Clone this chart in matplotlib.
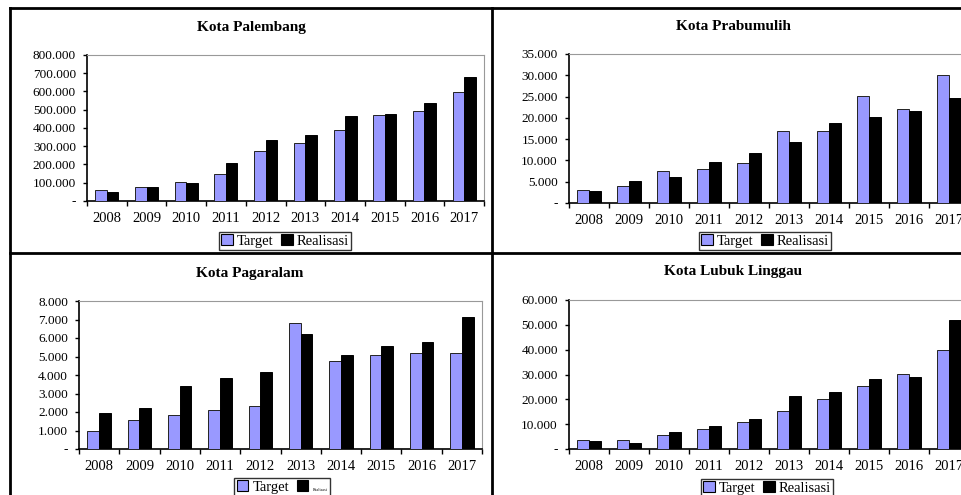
import numpy as np
import matplotlib
matplotlib.use("Agg")
import matplotlib.pyplot as plt
from matplotlib.lines import Line2D
from matplotlib.patches import Patch
from matplotlib.ticker import FuncFormatter, FixedLocator

plt.rcParams["font.family"] = ["Liberation Serif", "DejaVu Serif"]

years = ["2008", "2009", "2010", "2011", "2012", "2013", "2014", "2015", "2016", "2017"]

# values
palembang_target = [58000, 78000, 106000, 150000, 276000, 320000, 389000, 473000, 495000, 599000]
palembang_real = [51000, 78000, 100000, 206000, 332000, 362000, 466000, 479000, 537000, 678000]

prabumulih_target = [3050, 4000, 7600, 8100, 9400, 16800, 16800, 25050, 22100, 30100]
prabumulih_real = [2750, 5200, 6100, 9700, 11800, 14250, 18700, 20300, 21700, 24700]

pagaralam_target = [1000, 1550, 1830, 2090, 2300, 6810, 4730, 5070, 5210, 5210]
pagaralam_real = [1960, 2230, 3420, 3830, 4170, 6190, 5070, 5560, 5790, 7140]

lubuk_target = [3760, 3760, 5800, 7900, 11000, 15200, 20300, 25400, 30200, 40000]
lubuk_real = [3200, 2300, 6800, 9400, 12100, 21300, 23000, 28100, 29100, 51900]

TARGET_COLOR = "#9999ff"
W, H = 961, 495

fig = plt.figure(figsize=(W / 100, H / 100), dpi=100)


def px_axes(left, right, top, bottom):
    return fig.add_axes([left / W, 1 - bottom / H, (right - left) / W, (bottom - top) / H])


def thousands(v, pos):
    if v == 0:
        return "-"
    return f"{int(round(v)):,}".replace(",", ".")


panels = [
    # title, target, real, ymax, step, axes box (l, r, t, b), title pos, legend pos, tiny legend label
    ("Kota Palembang", palembang_target, palembang_real, 800000, 100000,
     (87, 484, 55, 201), (251, 27), (285, 241), False),
    ("Kota Prabumulih", prabumulih_target, prabumulih_real, 35000, 5000,
     (569, 969, 54, 203), (733, 27), (765, 241), False),
    ("Kota Pagaralam", pagaralam_target, pagaralam_real, 8000, 1000,
     (79, 482, 301, 449), (250, 273), (282, 487), True),
    ("Kota Lubuk Linggau", lubuk_target, lubuk_real, 60000, 10000,
     (569, 969, 300, 449), (733, 272), (767, 488), False),
]

x = np.arange(len(years))
bw = 0.29

for title, tgt, real, ymax, step, box, tpos, lpos, tiny in panels:
    ax = px_axes(*box)
    ax.bar(x - bw / 2, tgt, bw, color=TARGET_COLOR, edgecolor="#222222", linewidth=0.7, zorder=3)
    ax.bar(x + bw / 2, real, bw, color="black", edgecolor="black", linewidth=0.7, zorder=3)

    ax.set_xlim(-0.5, len(years) - 0.5)
    ax.set_ylim(0, ymax)
    ax.yaxis.set_major_locator(FixedLocator(np.arange(0, ymax + 1, step)))
    ax.yaxis.set_major_formatter(FuncFormatter(thousands))

    ax.set_xticks(x)
    ax.set_xticklabels(years)
    ax.xaxis.set_minor_locator(FixedLocator(np.arange(-0.5, len(years), 1.0)))
    ax.tick_params(axis="x", which="major", length=0, pad=8, labelsize=10.5)
    ax.tick_params(axis="x", which="minor", length=3.5, width=1.0, direction="out")
    ax.tick_params(axis="y", length=3, width=1.0, direction="out", pad=5, labelsize=9.5,
                   colors="black")

    for side in ("top", "right"):
        ax.spines[side].set_color("#999999")
        ax.spines[side].set_linewidth(0.8)
    for side in ("left", "bottom"):
        ax.spines[side].set_color("black")
        ax.spines[side].set_linewidth(1.2)

    fig.text(tpos[0] / W, 1 - tpos[1] / H, title, ha="center", va="center",
             fontsize=11, fontweight="bold")

    handles = [Patch(facecolor=TARGET_COLOR, edgecolor="black", linewidth=0.8),
               Patch(facecolor="black", edgecolor="black", linewidth=0.8)]
    leg = fig.legend(handles, ["Target", "Realisasi"], loc="center",
                     bbox_to_anchor=(lpos[0] / W, 1 - lpos[1] / H), ncol=2,
                     frameon=True, fancybox=False, fontsize=10.5, handlelength=0.8,
                     handleheight=0.8, handletextpad=0.3, columnspacing=0.5,
                     borderpad=0.15, borderaxespad=0)
    leg.get_frame().set_edgecolor("black")
    leg.get_frame().set_linewidth(1.0)
    if tiny:
        leg.get_texts()[1].set_fontsize(3)

# panel borders
border_kw = dict(color="black", linewidth=2.0, transform=fig.transFigure)
fig.add_artist(Line2D([10 / W, 10 / W], [1 - 8 / H, 0], **border_kw))
fig.add_artist(Line2D([10 / W, 1], [1 - 8 / H, 1 - 8 / H], **border_kw))
fig.add_artist(Line2D([492 / W, 492 / W], [1 - 8 / H, 0], **border_kw))
fig.add_artist(Line2D([10 / W, 1], [1 - 253 / H, 1 - 253 / H], **border_kw))

fig.savefig("out.png", dpi=100, facecolor="white")
